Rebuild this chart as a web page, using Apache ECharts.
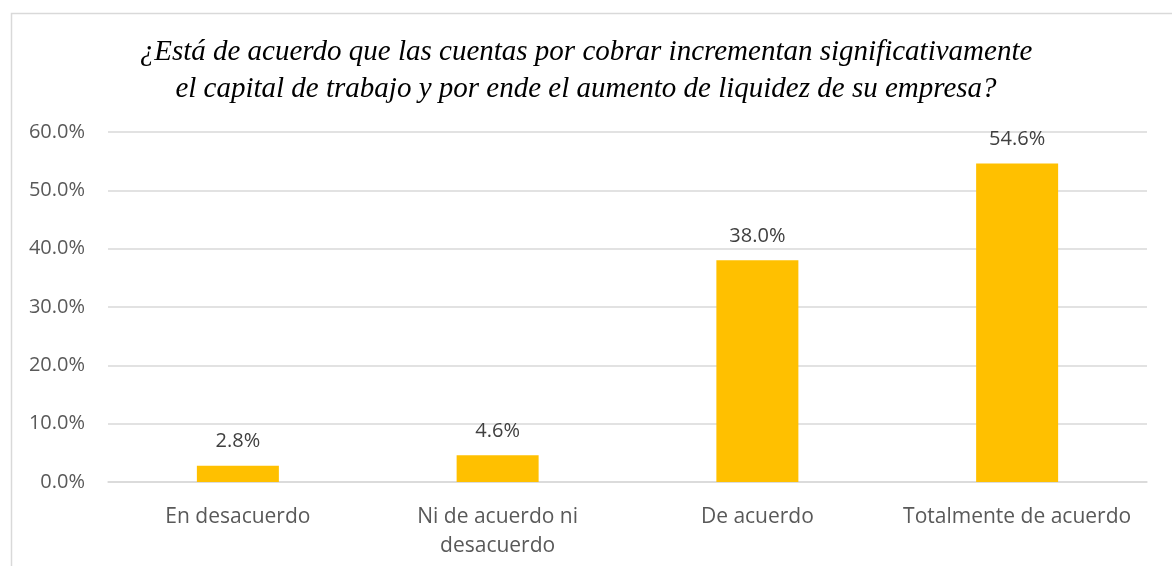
<!DOCTYPE html>
<html><head><meta charset="utf-8">
<script src="https://cdn.jsdelivr.net/npm/echarts@6/dist/echarts.min.js"></script>
<style>html,body{margin:0;padding:0;background:#fff}#c{width:1172px;height:566px}</style>
</head><body><div id="c"></div>
<script>
const categories = ['En desacuerdo', 'Ni de acuerdo ni\ndesacuerdo', 'De acuerdo', 'Totalmente de acuerdo'];
const values = [2.8, 4.6, 38.0, 54.6];
const titleText = '¿Está de acuerdo que las cuentas por cobrar incrementan significativamente\nel capital de trabajo y por ende el aumento de liquidez de su empresa?';

const chart = echarts.init(document.getElementById('c'));
chart.setOption({
  animation: false,
  backgroundColor: '#fff',
  graphic: [{type:'rect', left: 9, top: 11, shape:{width:1300, height:700}, style:{fill:'none', stroke:'#d9d9d9', lineWidth:1.5}, silent:true, z:-1}],
  title: {
    text: titleText, left: 'center', top: 29,
    textStyle: {fontFamily: 'Liberation Serif', fontStyle: 'italic', fontWeight: 'normal', fontSize: 29, color: '#000', lineHeight: 37}
  },
  grid: {left: 108, right: 25, top: 132, bottom: 84, containLabel: false},
  xAxis: {
    type: 'category', data: categories,
    axisLine: {lineStyle: {color: '#d9d9d9', width: 1.5}},
    axisTick: {show: false},
    axisLabel: {color: '#595959', fontFamily: 'Open Sans', fontSize: 21, margin: 21, lineHeight: 29, interval: 0}
  },
  yAxis: {
    type: 'value', min: 0, max: 60, interval: 10,
    axisLine: {show: false}, axisTick: {show: false},
    splitLine: {lineStyle: {color: '#d9d9d9', width: 1.5}},
    axisLabel: {color: '#595959', fontFamily: 'Open Sans', fontSize: 20, margin: 23, formatter: v => v.toFixed(1) + '%'}
  },
  series: [{
    type: 'bar', data: values, barWidth: 82,
    itemStyle: {color: '#FFC000'},
    label: {show: true, position: 'top', distance: 14, color: '#404040', fontFamily: 'Open Sans', fontSize: 20, formatter: p => p.value.toFixed(1) + '%'}
  }]
});
</script></body></html>
